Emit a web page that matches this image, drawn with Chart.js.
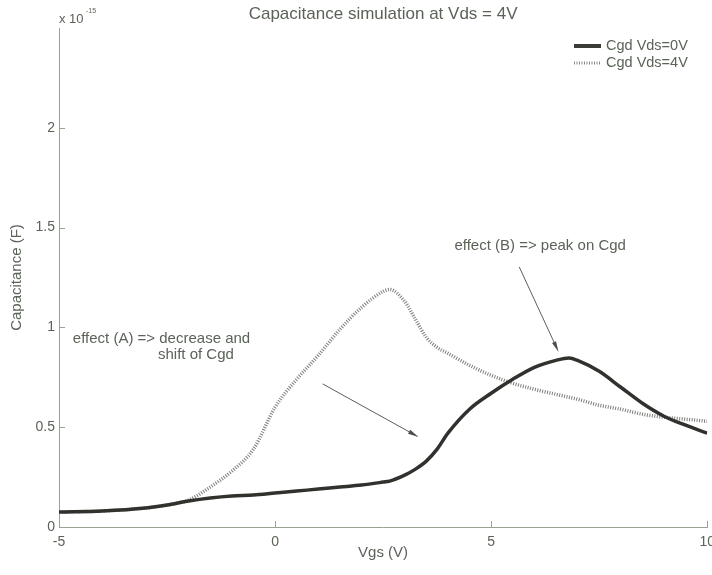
<!DOCTYPE html>
<html>
<head>
<meta charset="utf-8">
<title>Capacitance simulation at Vds = 4V</title>
<script src="https://cdn.jsdelivr.net/npm/chart.js@4"></script>
<style>
    html, body { margin: 0; padding: 0; background: #fff; overflow: hidden; }
    #wrap { position: absolute; left: 0; top: 0; width: 722px; height: 575px; }
</style>
</head>
<body>
<div id="wrap"><canvas id="capChart" width="722" height="575"></canvas></div>
<script>
// Vgs sweep (V)
const vgs = [-5, -4, -3, -2.5, -2, -1.5, -1, -0.5, 0, 0.5, 1, 1.5, 2, 2.5, 2.65, 3, 3.25, 3.5, 3.75, 4, 4.5, 5, 5.5, 6, 6.5, 6.8, 7, 7.5, 8, 8.5, 9, 9.5, 10];
// Cgd at Vds = 0V (x 1e-15 F)
const cgdVds0 = [0.075, 0.08, 0.095, 0.11, 0.13, 0.145, 0.155, 0.16, 0.17, 0.18, 0.19, 0.2, 0.21, 0.225, 0.23, 0.26, 0.29, 0.33, 0.39, 0.47, 0.59, 0.67, 0.74, 0.8, 0.835, 0.847, 0.835, 0.78, 0.7, 0.62, 0.555, 0.51, 0.47];
// Cgd at Vds = 4V (x 1e-15 F)
const cgdVds4 = [0.075, 0.08, 0.095, 0.11, 0.135, 0.2, 0.28, 0.39, 0.6, 0.74, 0.86, 0.99, 1.1, 1.18, 1.19, 1.13, 1.04, 0.95, 0.9, 0.87, 0.81, 0.76, 0.72, 0.69, 0.665, 0.65, 0.64, 0.61, 0.59, 0.565, 0.55, 0.54, 0.53];

const xTicks = [-5, 0, 5, 10];
const yTicks = [0, 0.5, 1, 1.5, 2];

const seriesNames = ['Cgd Vds=0V', 'Cgd Vds=4V'];

// annotation anchors in data units
const notes = [
    { text: 'effect (A) => decrease and', x: -4.68, y: 0.945 },
    { text: 'shift of Cgd', x: -2.71, y: 0.86 },
    { text: 'effect (B) => peak on Cgd', x: 4.15, y: 1.41 }
];
const arrows = [
    { from: [1.10, 0.717], to: [3.32, 0.451] },
    { from: [5.65, 1.303], to: [6.56, 0.877] }
];

const textColor = '#5b6358';
const axisColor = '#97a38d';
const font = '"Liberation Sans", Arial, sans-serif';

function toPoints(xs, ys) {
    return xs.map((x, i) => ({ x: x, y: ys[i] }));
}

const decorPlugin = {
    id: 'decor',
    afterDraw(chart) {
        const { ctx, chartArea, scales } = chart;
        const xs = scales.x, ys = scales.y;
        ctx.save();

        // inward ticks
        ctx.strokeStyle = axisColor;
        ctx.lineWidth = 1;
        xTicks.forEach(v => {
            const px = Math.round(xs.getPixelForValue(v)) + 0.5;
            ctx.beginPath();
            ctx.moveTo(px, chartArea.bottom);
            ctx.lineTo(px, chartArea.bottom - 6);
            ctx.stroke();
        });
        yTicks.forEach(v => {
            const py = Math.round(ys.getPixelForValue(v)) + 0.5;
            ctx.beginPath();
            ctx.moveTo(chartArea.left, py);
            ctx.lineTo(chartArea.left + 6, py);
            ctx.stroke();
        });

        // title
        ctx.fillStyle = textColor;
        ctx.textBaseline = 'middle';
        ctx.textAlign = 'center';
        ctx.font = '17px ' + font;
        ctx.fillText('Capacitance simulation at Vds = 4V', (chartArea.left + chartArea.right) / 2, 14);

        // exponent label
        ctx.textAlign = 'left';
        ctx.font = '13px ' + font;
        ctx.fillText('x 10', 59, 19);
        ctx.font = '7px ' + font;
        ctx.fillText('-15', 86, 11);

        // legend
        const lx = 574, ly = [46, 63];
        ctx.lineWidth = 4;
        ctx.strokeStyle = '#3a3c38';
        ctx.beginPath();
        ctx.moveTo(lx, ly[0]);
        ctx.lineTo(lx + 27, ly[0]);
        ctx.stroke();
        ctx.strokeStyle = '#8a8a86';
        ctx.setLineDash([1, 1.5]);
        ctx.lineWidth = 3;
        ctx.beginPath();
        ctx.moveTo(lx, ly[1]);
        ctx.lineTo(lx + 27, ly[1]);
        ctx.stroke();
        ctx.setLineDash([]);
        ctx.font = '14.5px ' + font;
        ctx.fillStyle = textColor;
        seriesNames.forEach((name, i) => ctx.fillText(name, lx + 32, ly[i]));

        // annotations
        ctx.font = '15px ' + font;
        notes.forEach(n => {
            ctx.fillText(n.text, xs.getPixelForValue(n.x), ys.getPixelForValue(n.y));
        });

        ctx.strokeStyle = '#5a5f57';
        ctx.fillStyle = '#4a4f47';
        ctx.lineWidth = 1;
        arrows.forEach(a => {
            const x1 = xs.getPixelForValue(a.from[0]), y1 = ys.getPixelForValue(a.from[1]);
            const x2 = xs.getPixelForValue(a.to[0]), y2 = ys.getPixelForValue(a.to[1]);
            const ang = Math.atan2(y2 - y1, x2 - x1);
            const head = 11, spread = 0.2;
            ctx.beginPath();
            ctx.moveTo(x1, y1);
            ctx.lineTo(x2 - Math.cos(ang) * head * 0.8, y2 - Math.sin(ang) * head * 0.8);
            ctx.stroke();
            ctx.beginPath();
            ctx.moveTo(x2, y2);
            ctx.lineTo(x2 - head * Math.cos(ang - spread), y2 - head * Math.sin(ang - spread));
            ctx.lineTo(x2 - head * Math.cos(ang + spread), y2 - head * Math.sin(ang + spread));
            ctx.closePath();
            ctx.fill();
        });

        ctx.restore();
    }
};

new Chart(document.getElementById('capChart'), {
    type: 'line',
    data: {
        datasets: [{
            label: seriesNames[0],
            data: toPoints(vgs, cgdVds0),
            borderColor: '#2f322d',
            borderWidth: 3.5,
            pointRadius: 0,
            cubicInterpolationMode: 'monotone',
            fill: false,
            order: 1
        }, {
            label: seriesNames[1],
            data: toPoints(vgs, cgdVds4),
            borderColor: '#7d7e7a',
            borderWidth: 3.5,
            borderDash: [1, 1.5],
            pointRadius: 0,
            cubicInterpolationMode: 'monotone',
            fill: false,
            order: 2
        }]
    },
    options: {
        responsive: false,
        devicePixelRatio: 1,
        animation: false,
        layout: { padding: { top: 28, right: 14, left: 0, bottom: 0 } },
        plugins: {
            legend: { display: false },
            title: { display: false },
            tooltip: { enabled: false }
        },
        scales: {
            x: {
                type: 'linear',
                min: -5,
                max: 10,
                afterFit: s => { s.height = 48; },
                afterBuildTicks: s => { s.ticks = xTicks.map(v => ({ value: v })); },
                grid: { display: true, drawOnChartArea: false, drawTicks: false },
                border: { display: true, color: axisColor, width: 1 },
                ticks: {
                    padding: 7,
                    color: textColor,
                    font: { family: font, size: 14 },
                    maxRotation: 0
                },
                title: {
                    display: true,
                    text: 'Vgs (V)',
                    color: textColor,
                    font: { family: font, size: 15 },
                    padding: { top: 0, bottom: 13 }
                }
            },
            y: {
                type: 'linear',
                min: 0,
                max: 2.5,
                afterFit: s => { s.width = 59; },
                afterBuildTicks: s => { s.ticks = yTicks.map(v => ({ value: v })); },
                grid: { display: true, drawOnChartArea: false, drawTicks: false },
                border: { display: true, color: axisColor, width: 1 },
                ticks: {
                    padding: 4,
                    color: textColor,
                    font: { family: font, size: 14 },
                    callback: v => String(v)
                },
                title: {
                    display: true,
                    text: 'Capacitance (F)',
                    color: textColor,
                    font: { family: font, size: 15 },
                    padding: { top: 8, bottom: 0 }
                }
            }
        }
    },
    plugins: [decorPlugin]
});
</script>
</body>
</html>
